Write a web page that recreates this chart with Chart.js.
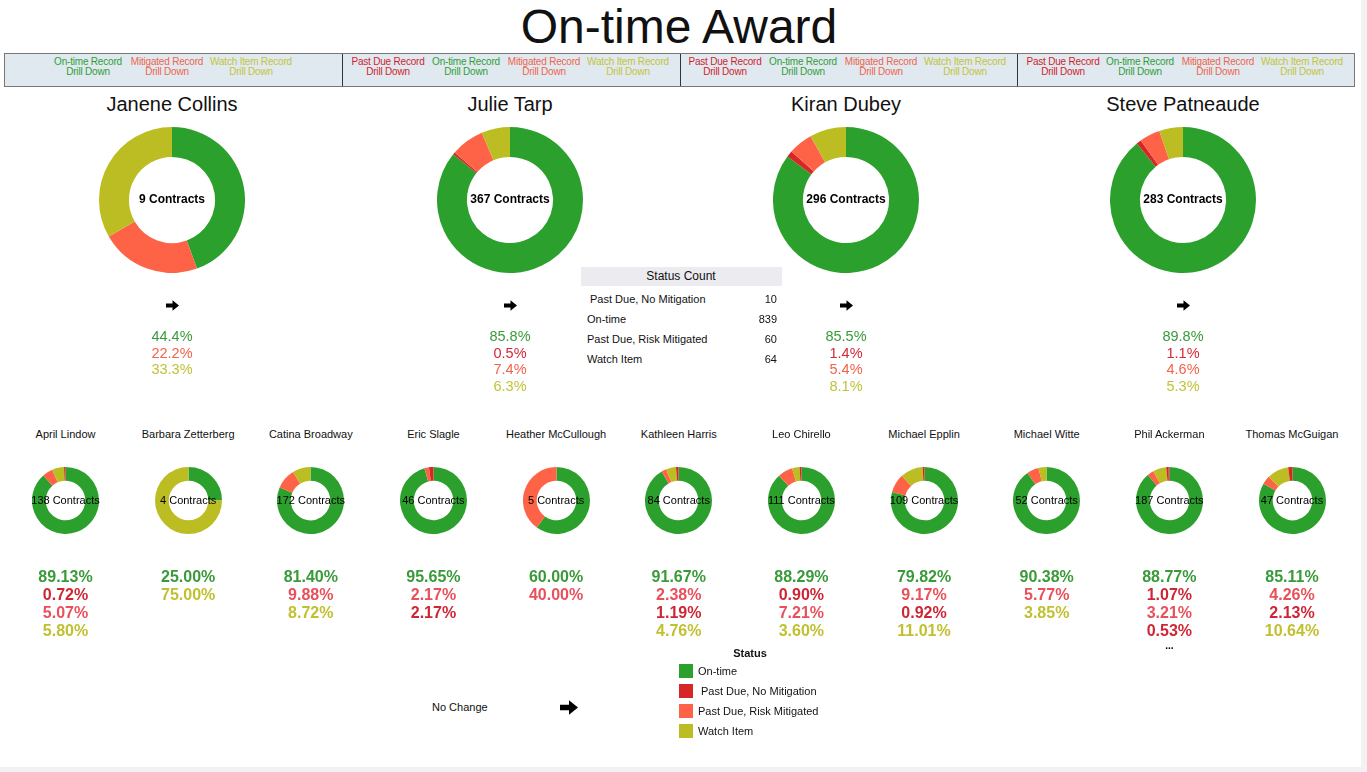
<!DOCTYPE html>
<html>
<head>
<meta charset="utf-8">
<script src="https://cdn.jsdelivr.net/npm/chart.js@4.4.1/dist/chart.umd.min.js"></script>
<style>
  html,body{margin:0;padding:0;}
  body{width:1367px;height:772px;background:#f2f2f2;overflow:hidden;font-family:Arial,"Liberation Sans",sans-serif;position:relative;}
  #page{position:absolute;left:0;top:0;width:1361px;height:767px;background:#fff;}
  .abs{position:absolute;}
  .ctr{transform:translate(-50%,-50%);white-space:nowrap;text-align:center;}
  .lft{transform:translate(0,-50%);white-space:nowrap;}
  .rgt{transform:translate(-100%,-50%);white-space:nowrap;}
  #bar{position:absolute;left:4px;top:53px;width:1349px;height:32px;background:#dfe9ef;border:1px solid #777;}
  .div{position:absolute;top:0;width:1px;height:32px;background:#333;}
  .btn{font-size:10px;line-height:10px;letter-spacing:-0.2px;}
</style>
</head>
<body>
<div id="page"></div>
<script>
// ---------------- data ----------------
const statusNames = ["On-time", " Past Due, No Mitigation", "Past Due, Risk Mitigated", "Watch Item"];
const statusCountLabels = [" Past Due, No Mitigation", "On-time", "Past Due, Risk Mitigated", "Watch Item"];
const statusCountValues = [10, 839, 60, 64];

const bigNames = ["Janene Collins", "Julie Tarp", "Kiran Dubey", "Steve Patneaude"];
const bigCounts = [9, 367, 296, 283];
const bigOnTime = [44.4, 85.8, 85.5, 89.8];
const bigPastDue = [0, 0.5, 1.4, 1.1];
const bigMitigated = [22.2, 7.4, 5.4, 4.6];
const bigWatch = [33.3, 6.3, 8.1, 5.3];

const smallNames = ["April Lindow", "Barbara Zetterberg", "Catina Broadway", "Eric Slagle", "Heather McCullough",
  "Kathleen Harris", "Leo Chirello", "Michael Epplin", "Michael Witte", "Phil Ackerman", "Thomas McGuigan"];
const smallCounts = [138, 4, 172, 46, 5, 84, 111, 109, 52, 187, 47];
const smallOnTime = [89.13, 25.00, 81.40, 95.65, 60.00, 91.67, 88.29, 79.82, 90.38, 88.77, 85.11];
const smallMitigated = [5.07, 0, 9.88, 2.17, 40.00, 2.38, 7.21, 9.17, 5.77, 3.21, 4.26];
const smallWatch = [5.80, 75.00, 8.72, 0, 0, 4.76, 3.60, 11.01, 3.85, 6.42, 10.64];
const smallPastDue = [0.72, 0, 0, 2.17, 0, 1.19, 0.90, 0.92, 0, 1.07, 2.13];
const smallPastDue2 = [0, 0, 0, 0, 0, 0, 0, 0, 0, 0.53, 0];
// order in which the percentages are listed under each small donut
const smallLineOrder = [
  ["g","pd","mit","w"], ["g","w"], ["g","mit","w"], ["g","mit","pd"], ["g","mit"],
  ["g","mit","pd","w"], ["g","pd","mit","w"], ["g","mit","pd","w"], ["g","mit","w"],
  ["g","pd","mit","pd2","w"], ["g","mit","pd","w"]
];

const buttonSections = [
  ["On-time", "Mitigated", "Watch Item"],
  ["Past Due", "On-time", "Mitigated", "Watch Item"],
  ["Past Due", "On-time", "Mitigated", "Watch Item"],
  ["Past Due", "On-time", "Mitigated", "Watch Item"]
];

// ---------------- styles ----------------
const C_GREEN = "#2ca02c", C_RED = "#d62728", C_MIT = "#ff6347", C_WATCH = "#bcbd22";
const T = {g:"#3a9a3a", pd:"#d22838", mit:"#f0644c", w:"#c2c23a"};
const TS = {g:"#3a9a3a", pd:"#cf2636", mit:"#e8505c", pd2:"#cf2636", w:"#c0c030"};
const btnColor = {"Past Due":"#d21c2c","On-time":"#2e9e36","Mitigated":"#f0644c","Watch Item":"#c4c43a"};

const page = document.getElementById("page");
function el(tag, cls, css, html){
  const e = document.createElement(tag);
  if (cls) e.className = cls;
  if (css) e.style.cssText = css;
  if (html !== undefined) e.innerHTML = html;
  page.appendChild(e);
  return e;
}
function arrowSVG(x, y, w, h){
  const s = el("div","abs","left:"+(x-w/2)+"px;top:"+(y-h/2)+"px;width:"+w+"px;height:"+h+"px;");
  s.innerHTML = '<svg width="'+w+'" height="'+h+'" viewBox="0 0 20 16"><path d="M0 5 H10 V0 L20 8 L10 16 V11 H0 Z" fill="#000"/></svg>';
}

// title
el("div","abs ctr","left:679px;top:26px;font-size:48px;color:#111;","On-time Award");

// button bar
const bar = document.createElement("div"); bar.id = "bar"; page.appendChild(bar);
const secEdges = [0, 337, 675, 1012, 1349];
const btnCenters = [[83,162,246],[383,461,539,623],[720,798,876,960],[1058,1135,1213,1297]];
for (let s=0; s<4; s++){
  if (s>0){ const d=document.createElement("div"); d.className="div"; d.style.left=secEdges[s]+"px"; bar.appendChild(d); }
  buttonSections[s].forEach((b,i)=>{
    const t=document.createElement("div");
    t.className="abs ctr btn";
    t.style.cssText="left:"+btnCenters[s][i]+"px;top:13px;color:"+btnColor[b]+";";
    t.innerHTML=b+" Record<br>Drill Down";
    bar.appendChild(t);
  });
}

Chart.defaults.animation = false;
function donut(cx, cy, size, data, colors){
  const c = document.createElement("canvas");
  c.width = size; c.height = size;
  c.style.cssText = "position:absolute;left:"+(cx-size/2)+"px;top:"+(cy-size/2)+"px;width:"+size+"px;height:"+size+"px;";
  page.appendChild(c);
  new Chart(c, {
    type: "doughnut",
    data: { labels: data.map((_,i)=>String(i)), datasets: [{ data: data, backgroundColor: colors, borderWidth: 0 }] },
    options: {
      responsive: false, maintainAspectRatio: false, cutout: "59%",
      layout: { padding: 0 },
      plugins: { legend: { display: false }, tooltip: { enabled: false } },
      events: []
    }
  });
}

// big donuts
const bigX = [172, 510, 846, 1183];
for (let i=0;i<4;i++){
  const x = bigX[i];
  el("div","abs ctr","left:"+x+"px;top:104px;font-size:20px;color:#111;", bigNames[i]);
  donut(x, 199.5, 146, [bigOnTime[i], bigPastDue[i], bigMitigated[i], bigWatch[i]], [C_GREEN, C_RED, C_MIT, C_WATCH]);
  el("div","abs ctr","left:"+x+"px;top:199px;font-size:12px;font-weight:bold;color:#000;", bigCounts[i]+" Contracts");
  arrowSVG(x, 302, 13, 11);
  const vals = [["g",bigOnTime[i]],["pd",bigPastDue[i]],["mit",bigMitigated[i]],["w",bigWatch[i]]].filter(v=>v[1]>0);
  vals.forEach((v,k)=>{
    el("div","abs ctr","left:"+x+"px;top:"+(336+k*16.7)+"px;font-size:14.5px;line-height:16px;color:"+T[v[0]]+";", v[1].toFixed(1)+"%");
  });
}

// status count table
el("div","abs","left:581px;top:267px;width:201px;height:19px;background:#ebebf0;");
el("div","abs ctr","left:681px;top:276px;font-size:12px;color:#111;","Status Count");
statusCountLabels.forEach((l,k)=>{
  const y = 299 + k*20;
  el("div","abs lft","left:"+(k===0?590:587)+"px;top:"+y+"px;font-size:11px;color:#111;", l.trim());
  el("div","abs rgt","left:777px;top:"+y+"px;font-size:11px;color:#111;", statusCountValues[k]);
});

// small donuts
const smallX0 = 65.5, smallDx = 122.65;
for (let i=0;i<smallNames.length;i++){
  const x = smallX0 + i*smallDx;
  el("div","abs ctr","left:"+x+"px;top:434px;font-size:11px;color:#111;", smallNames[i]);
  donut(x, 500, 67, [smallOnTime[i], smallMitigated[i], smallWatch[i], smallPastDue[i], smallPastDue2[i]],
        [C_GREEN, C_MIT, C_WATCH, C_RED, "#c0241f"]);
  el("div","abs ctr","left:"+x+"px;top:500px;font-size:11px;color:#000;", smallCounts[i]+" Contracts");
  const map = {g:smallOnTime[i], mit:smallMitigated[i], w:smallWatch[i], pd:smallPastDue[i], pd2:smallPastDue2[i]};
  const order = smallLineOrder[i];
  order.slice(0,4).forEach((key,k)=>{
    el("div","abs ctr","left:"+x+"px;top:"+(577+k*18)+"px;font-size:16px;line-height:16px;font-weight:bold;color:"+TS[key]+";", map[key].toFixed(2)+"%");
  });
  if (order.length>4){
    el("div","abs ctr","left:"+x+"px;top:646px;font-size:10px;line-height:6px;font-weight:bold;color:#000;", "...");
  }
}

// legend
el("div","abs ctr","left:750px;top:653px;font-size:11px;font-weight:bold;color:#111;","Status");
const legColors = [C_GREEN, C_RED, C_MIT, C_WATCH];
statusNames.forEach((n,k)=>{
  const y = 671 + k*20;
  el("div","abs","left:679px;top:"+(y-7)+"px;width:14px;height:14px;background:"+legColors[k]+";");
  el("div","abs lft","left:"+(n.startsWith(" ")?701:698)+"px;top:"+y+"px;font-size:11px;color:#111;", n.trim());
});

el("div","abs lft","left:432px;top:707px;font-size:11px;color:#111;","No Change");
arrowSVG(569, 707, 18, 15);
</script>
</body>
</html>
